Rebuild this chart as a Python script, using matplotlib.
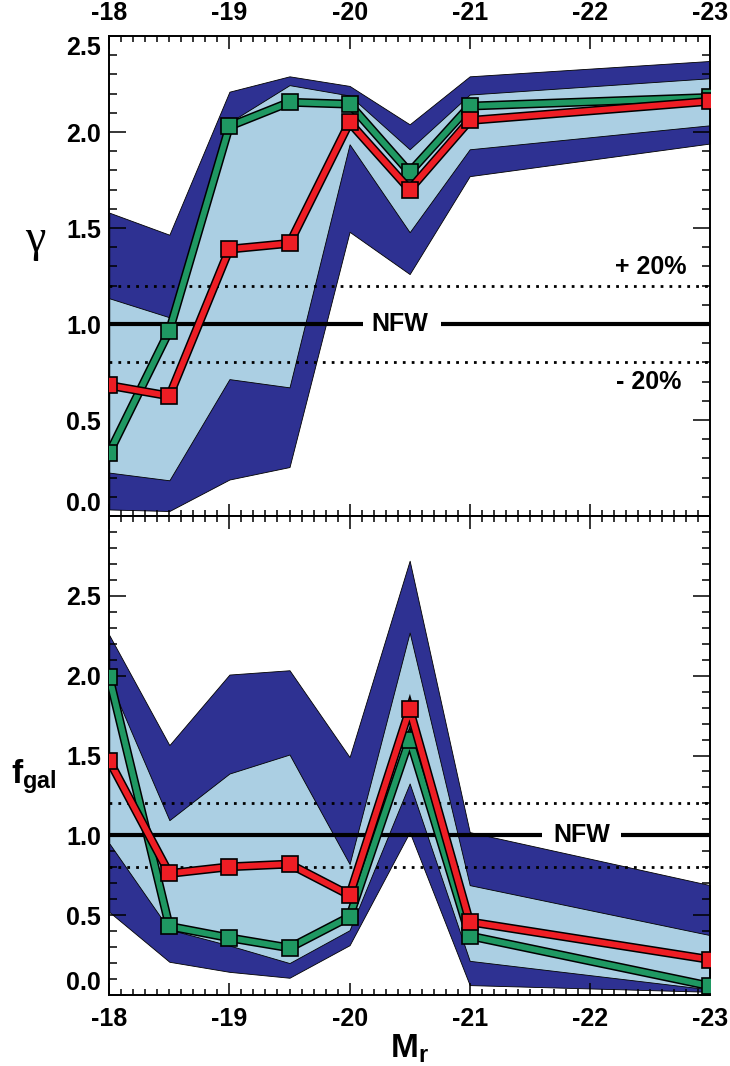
import matplotlib
matplotlib.use('Agg')
import matplotlib.pyplot as plt
import matplotlib.patheffects as pe
from matplotlib.ticker import MultipleLocator

plt.rcParams['font.family'] = ['Liberation Sans', 'DejaVu Sans']
plt.rcParams['font.weight'] = 'bold'
plt.rcParams['axes.unicode_minus'] = False
plt.rcParams['mathtext.fontset'] = 'custom'
plt.rcParams['mathtext.bf'] = 'Liberation Sans:bold'
plt.rcParams['mathtext.rm'] = 'Liberation Sans:bold'
plt.rcParams['mathtext.it'] = 'Liberation Sans:bold'

# ---------------- data ----------------
M = [-18, -18.5, -19, -19.5, -20, -20.5, -21, -23]

gamma_green = [0.33, 0.965, 2.03, 2.155, 2.145, 1.79, 2.135, 2.18]
gamma_red = [0.68, 0.625, 1.39, 1.42, 2.05, 1.70, 2.06, 2.16]
gamma_outer_hi = [1.58, 1.465, 2.21, 2.29, 2.24, 2.04, 2.29, 2.37]
gamma_outer_lo = [0.034, 0.026, 0.19, 0.255, 1.48, 1.26, 1.77, 1.94]
gamma_inner_hi = [1.134, 1.035, 2.05, 2.244, 2.19, 1.91, 2.195, 2.28]
gamma_inner_lo = [0.226, 0.186, 0.713, 0.67, 1.936, 1.478, 1.91, 2.035]

fgal_green = [1.99, 0.43, 0.358, 0.295, 0.49, 1.60, 0.37, 0.056]
fgal_red = [1.467, 0.761, 0.803, 0.82, 0.625, 1.79, 0.458, 0.222]
fgal_outer_hi = [2.254, 1.565, 2.007, 2.034, 1.49, 2.72, 1.02, 0.688]
fgal_outer_lo = [0.52, 0.208, 0.145, 0.108, 0.312, 1.02, 0.062, 0.02]
fgal_inner_hi = [1.97, 1.095, 1.387, 1.506, 0.82, 2.27, 0.688, 0.375]
fgal_inner_lo = [0.95, 0.41, 0.31, 0.2, 0.406, 1.325, 0.214, 0.035]

x_ticks = [-18, -19, -20, -21, -22, -23]
x_ticklabels = ['-18', '-19', '-20', '-21', '-22', '-23']
y_ticks = [0.0, 0.5, 1.0, 1.5, 2.0, 2.5]
y_ticklabels = ['0.0', '0.5', '1.0', '1.5', '2.0', '2.5']

nfw_value = 1.0
band_hi = 1.2
band_lo = 0.8

# ---------------- style ----------------
DARK = '#2E3192'
LIGHT = '#ABCFE3'
GREEN = '#1F9862'
RED = '#EE1D24'
FS = 18

W, H = 730, 1066
fig = plt.figure(figsize=(W / 100, H / 100), dpi=100)
L, R = 109.3 / W, 710 / W
ax1 = fig.add_axes([L, 1 - 516 / H, R - L, (516 - 36) / H])
ax2 = fig.add_axes([L, 1 - 995 / H, R - L, (995 - 516) / H])


def panel(ax, green, red, ohi, olo, ihi, ilo, ylim, nfw_gap, nfw_x):
    ax.fill_between(M, olo, ohi, facecolor=DARK, edgecolor='black', lw=0.6, zorder=1)
    ax.fill_between(M, ilo, ihi, facecolor=LIGHT, edgecolor='black', lw=0.6, zorder=2)
    for v in (band_hi, band_lo):
        ax.axhline(v, color='black', lw=2.0, ls=(0, (1, 2.2)), zorder=3)
    ax.hlines(nfw_value, M[0], nfw_gap[0], color='black', lw=3.0, zorder=3.5)
    ax.hlines(nfw_value, nfw_gap[1], M[-1], color='black', lw=3.0, zorder=3.5)
    ax.text(nfw_x, nfw_value, 'NFW', ha='center', va='center', fontsize=18,
            fontweight='bold', zorder=4)
    for ys, c, z in ((green, GREEN, 5), (red, RED, 7)):
        ax.plot(M, ys, color=c, lw=4.2, solid_joinstyle='miter',
                path_effects=[pe.Stroke(linewidth=6.4, foreground='black'), pe.Normal()],
                zorder=z)
        ax.plot(M, ys, ls='none', marker='s', ms=11.5, mfc=c, mec='black', mew=1.2,
                zorder=z + 0.5)
    ax.set_xlim(-18, -23)
    ax.set_ylim(*ylim)
    ax.set_xticks(x_ticks)
    ax.set_xticklabels(x_ticklabels)
    ax.set_yticks(y_ticks)
    ax.set_yticklabels(y_ticklabels)
    ax.xaxis.set_minor_locator(MultipleLocator(0.1))
    ax.yaxis.set_minor_locator(MultipleLocator(0.1))
    ax.tick_params(which='both', direction='in', top=True, right=True, width=1.1,
                   labelsize=FS)
    ax.tick_params(axis='x', which='major', length=9)
    ax.tick_params(axis='x', which='minor', length=4)
    ax.tick_params(axis='y', which='major', length=12, pad=6)
    ax.tick_params(axis='y', which='minor', length=6)
    for s in ax.spines.values():
        s.set_linewidth(1.4)
    for lab in ax.get_xticklabels() + ax.get_yticklabels():
        lab.set_fontweight('bold')


panel(ax1, gamma_green, gamma_red, gamma_outer_hi, gamma_outer_lo,
      gamma_inner_hi, gamma_inner_lo, (0, 2.5), (-20.112, -20.759), -20.42)
panel(ax2, fgal_green, fgal_red, fgal_outer_hi, fgal_outer_lo,
      fgal_inner_hi, fgal_inner_lo, (0, 3.0), (-21.60, -22.26), -21.93)

ax1.tick_params(axis='x', labeltop=True, labelbottom=False, pad=8)
ax2.tick_params(axis='x', labeltop=False, labelbottom=True, pad=9)

ylab1 = ax1.get_yticklabels()
ylab1[0].set_verticalalignment('bottom')
ylab1[-1].set_verticalalignment('top')
ylab2 = ax2.get_yticklabels()
ylab2[0].set_verticalalignment('bottom')

ax1.text(-22.51, 1.297, '+ 20%', ha='center', va='center', fontsize=FS, fontweight='bold')
ax1.text(-22.49, 0.70, '- 20%', ha='center', va='center', fontsize=FS, fontweight='bold')

ax1.text(-0.124, 0.575, 'γ', transform=ax1.transAxes, ha='center', va='center',
         fontsize=33, family=['Liberation Serif', 'DejaVu Serif'], fontweight='normal')
ax2.text(-0.125, 0.455, r'$\mathbf{f}_{\mathbf{gal}}$', transform=ax2.transAxes,
         ha='center', va='center', fontsize=24)
ax2.set_xlabel(r'$\mathbf{M}_{\mathbf{r}}$', fontsize=24, labelpad=1)

fig.savefig('out.png', dpi=100)
